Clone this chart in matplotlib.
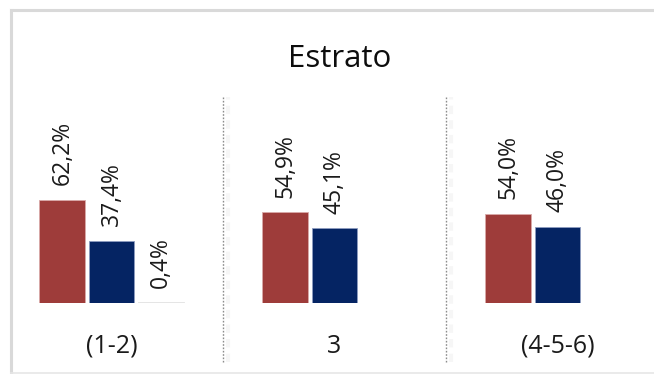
import matplotlib
matplotlib.use("Agg")
import matplotlib.pyplot as plt
from matplotlib.lines import Line2D
import numpy as np

plt.rcParams['font.family'] = ['Open Sans', 'DejaVu Sans']

# Data
categories = ["(1-2)", "3", "(4-5-6)"]
serie_a = [62.2, 54.9, 54.0]
serie_b = [37.4, 45.1, 46.0]
serie_c = [0.4, None, None]
title = "Estrato"

colors = ["#9E3C3A", "#052463", "#E3E3E3"]
edge_colors = ["#D9A9A8", "#8E9CC0", "#E3E3E3"]

W, H = 654, 374
fig = plt.figure(figsize=(W / 100, H / 100), dpi=100)

# Light frame: top, left and bottom edges (the right side runs off the canvas)
frame_col = "#D9D9D9"
x0, y_top, y_bot = 10.5 / W, 1 - 9.5 / H, 1.5 / H
fig.lines.append(Line2D([x0, 1.2], [y_top, y_top], transform=fig.transFigure,
                        color=frame_col, linewidth=2.2))
fig.lines.append(Line2D([x0, x0], [y_bot, y_top], transform=fig.transFigure,
                        color=frame_col, linewidth=2.2))
fig.lines.append(Line2D([x0, 1.2], [y_bot, y_bot], transform=fig.transFigure,
                        color="#E6E6E6", linewidth=1.2))

# Axes placed in pixel terms: baseline at y=303, top at y=97
base_px, top_px = 303, 97
ax = fig.add_axes([0, (H - base_px) / H, 669 / W, (base_px - top_px) / H])
ax.set_xlim(-0.5, 2.5)
ax.set_ylim(0, 124.4)
ax.axis("off")

x = np.arange(len(categories))
width = 0.206
offsets = [-0.22, 0.0, 0.22]

for series, off, col, ec in zip([serie_a, serie_b, serie_c], offsets, colors, edge_colors):
    vals = [v if v is not None else 0 for v in series]
    bars = ax.bar(x + off, vals, width=width, color=col, edgecolor=ec, linewidth=0.6, zorder=2)
    for rect, v in zip(bars, series):
        if v is None:
            continue
        ax.annotate(f"{v:.1f}%".replace(".", ","),
                    xy=(rect.get_x() + rect.get_width() / 2, rect.get_height()),
                    xytext=(0, 10.5), textcoords="offset points",
                    rotation=90, ha="center", va="bottom",
                    fontsize=16.5, color="#1A1A1A", zorder=3)

# Category labels under each group
for xi, lab in zip(x, categories):
    ax.annotate(lab, xy=(xi, 0), xytext=(0, -31), textcoords="offset points",
                ha="center", va="center", fontsize=18, color="#1A1A1A",
                annotation_clip=False)

# Dotted separators between groups, with a faint soft shadow
ymin = -(362 - base_px) / (base_px - top_px)
for xs in [0.5, 1.5]:
    ax.axvline(xs + 0.022, ymin=ymin, ymax=1.0, color="#F6F6F6", linewidth=3,
               linestyle=(0, (2, 1.5)), clip_on=False, zorder=1)
    ax.axvline(xs, ymin=ymin, ymax=1.0, color="#8C8C8C", linewidth=1.0,
               linestyle=(0, (1.2, 1.2)), clip_on=False, zorder=1)

fig.text(340 / W, 1 - 59 / H, title, ha="center", va="center",
         fontsize=22.5, color="#0D0D0D")

fig.savefig("out.png", dpi=100)
